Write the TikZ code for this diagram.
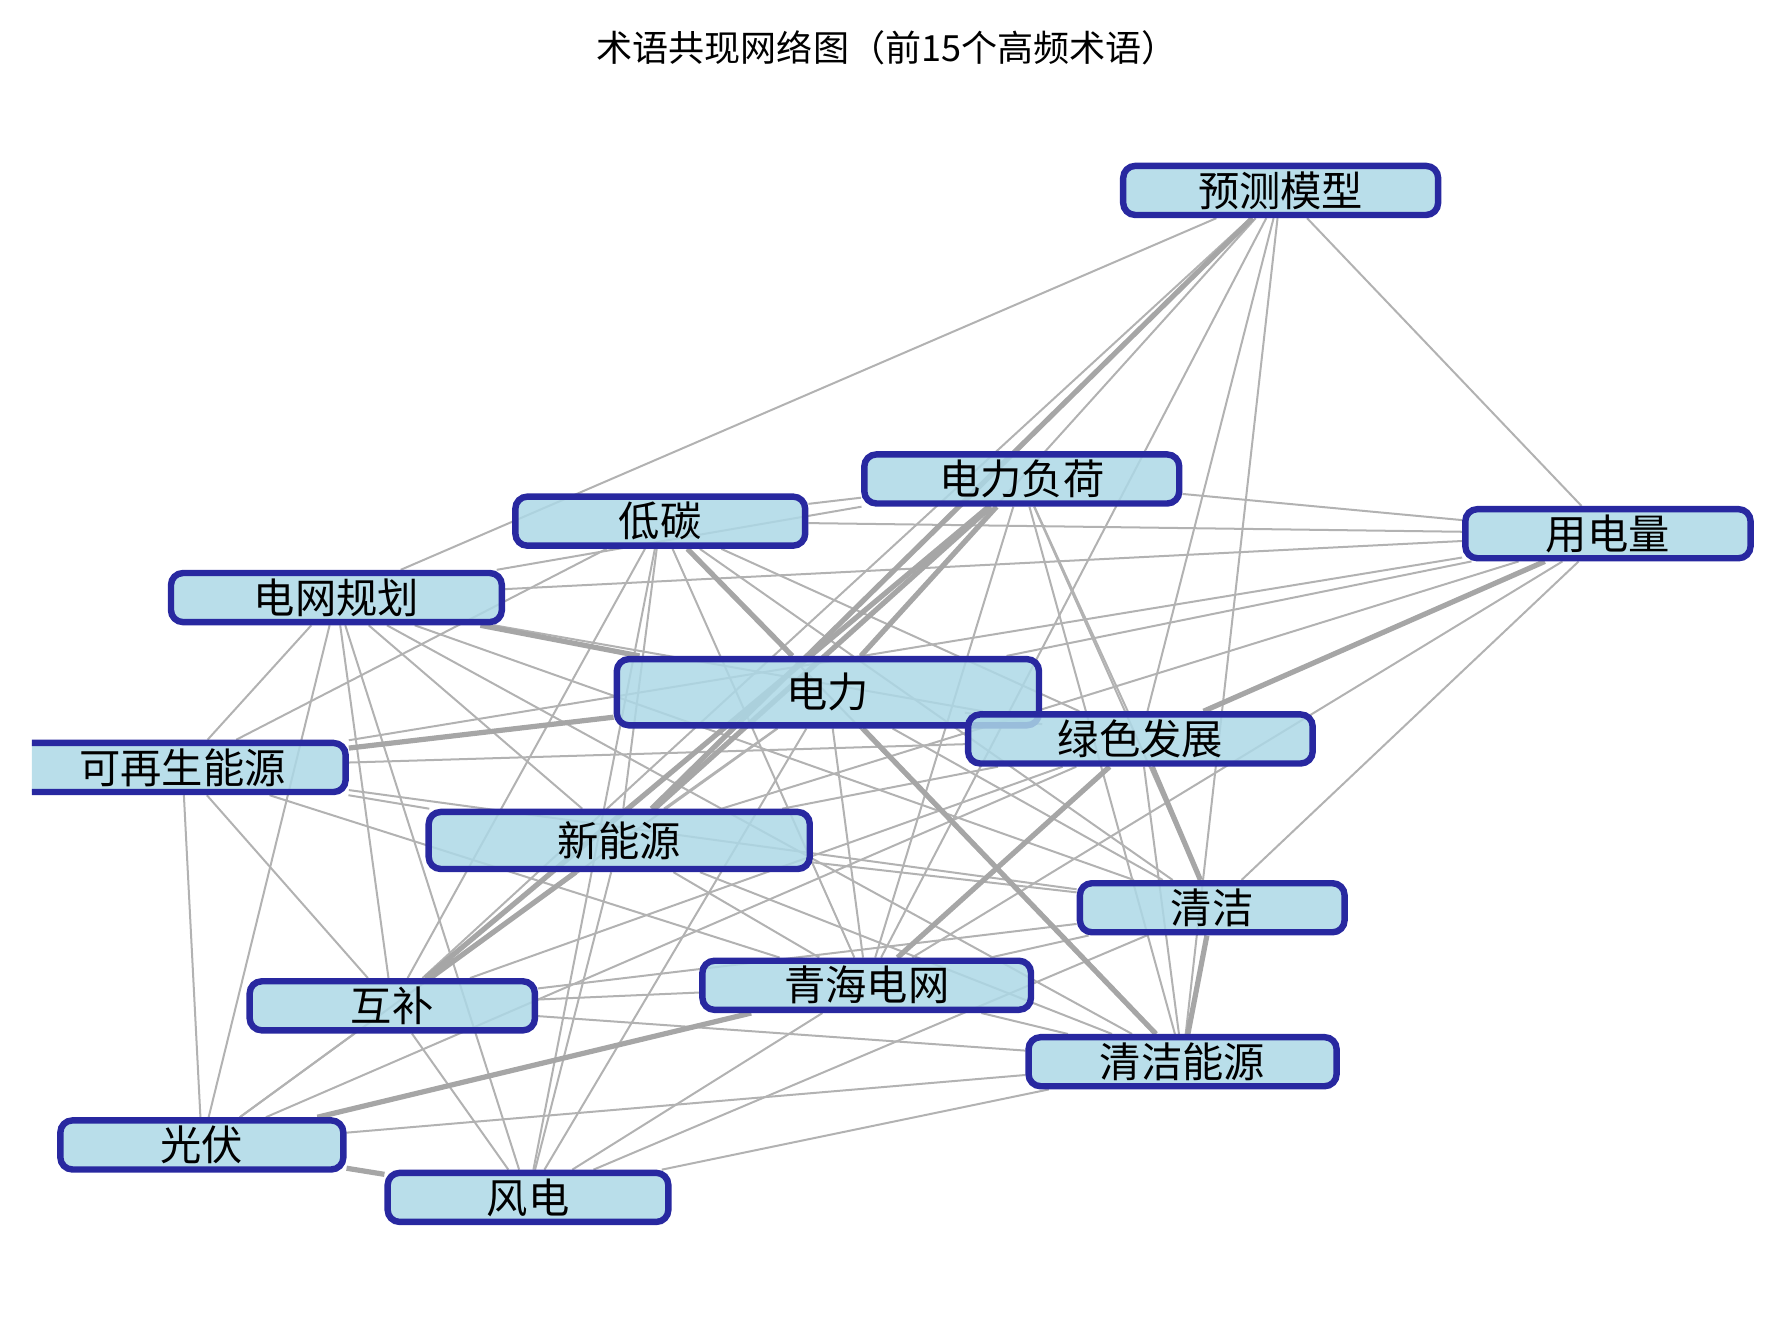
\documentclass[tikz,border=0pt]{standalone}
\usepackage{fontspec}
\setmainfont{Noto Sans CJK SC}
\usetikzlibrary{backgrounds}
\definecolor{termfill}{RGB}{173,216,230}
\definecolor{termedge}{RGB}{40,40,160}
\tikzset{
  term/.style={draw=termedge, line width=1.6pt, rounded corners=3pt, fill=termfill, fill opacity=0.85, text opacity=1, minimum height=0.43cm, inner sep=0pt, font=\fontsize{10.3}{12}\selectfont},
  link/.style={draw=black!30, line width=0.5pt},
  strong/.style={draw=black!35, line width=1.3pt}
}
\begin{document}
\begin{tikzpicture}[x=0.01cm,y=-0.01cm]
\useasboundingbox (0,0) rectangle (1560,1164);
\clip (28,0) rectangle (1560,1164);
\node[font=\fontsize{9}{11}\selectfont] (title) at (778,42) {术语共现网络图（前15个高频术语）};
% terms
\node[term, minimum width=2.76cm] (pm) at (1123,167) {预测模型};
\node[term, minimum width=2.76cm] (dlfh) at (896,420) {电力负荷};
\node[term, minimum width=2.54cm] (dt) at (579,457) {低碳};
\node[term, minimum width=2.5cm] (yd) at (1410,468) {用电量};
\node[term, minimum width=2.9cm] (dwgh) at (295,524) {电网规划};
\node[term, minimum width=3.7cm, minimum height=0.58cm] (dl) at (726,607) {电力};
\node[term, minimum width=3.02cm] (lsfz) at (1000,648) {绿色发展};
\node[term, minimum width=2.86cm] (kzs) at (160,673) {可再生能源};
\node[term, minimum width=3.34cm, minimum height=0.5cm] (xny) at (543,737) {新能源};
\node[term, minimum width=2.32cm] (qj) at (1063,796) {清洁};
\node[term, minimum width=2.88cm] (qhdw) at (760,864) {青海电网};
\node[term, minimum width=2.5cm] (hb) at (344,882) {互补};
\node[term, minimum width=2.7cm] (qjny) at (1037,931) {清洁能源};
\node[term, minimum width=2.48cm] (gf) at (177,1004) {光伏};
\node[term, minimum width=2.46cm] (fd) at (463,1050) {风电};
% co-occurrence links
\begin{scope}[on background layer]
\foreach \a/\b in {pm/dwgh,pm/yd,pm/lsfz,pm/qjny,pm/qhdw,pm/dl,pm/hb,
  dlfh/yd,dlfh/qj,dlfh/qjny,dlfh/qhdw,dlfh/lsfz,dlfh/dwgh,dlfh/dt,
  dt/qj,dt/qjny,dt/xny,dt/hb,dt/fd,dt/kzs,dt/yd,dt/qhdw,dt/lsfz,
  yd/dwgh,yd/kzs,yd/xny,yd/qhdw,yd/qj,yd/dl,
  dwgh/kzs,dwgh/xny,dwgh/hb,dwgh/fd,dwgh/qj,dwgh/qjny,dwgh/lsfz,dwgh/gf,
  dl/xny,dl/qhdw,dl/hb,dl/fd,dl/qj,dl/lsfz,
  lsfz/kzs,lsfz/xny,lsfz/qjny,lsfz/hb,lsfz/gf,
  kzs/xny,kzs/hb,kzs/gf,kzs/qj,kzs/qhdw,
  xny/qj,xny/qhdw,xny/fd,xny/qjny,xny/gf,
  qj/qhdw,qj/hb,qj/fd,qhdw/hb,qhdw/fd,qhdw/qjny,
  hb/gf,hb/fd,hb/qjny,gf/qjny,fd/qjny}
  \draw[link] (\a) -- (\b);
\foreach \a/\b in {pm/xny,dlfh/dl,dlfh/xny,dlfh/hb,dt/dl,yd/lsfz,dwgh/dl,
  dl/kzs,dl/qjny,lsfz/qj,lsfz/qhdw,xny/hb,qj/qjny,qhdw/gf,gf/fd}
  \draw[strong] (\a) -- (\b);
\end{scope}
\end{tikzpicture}
\end{document}
